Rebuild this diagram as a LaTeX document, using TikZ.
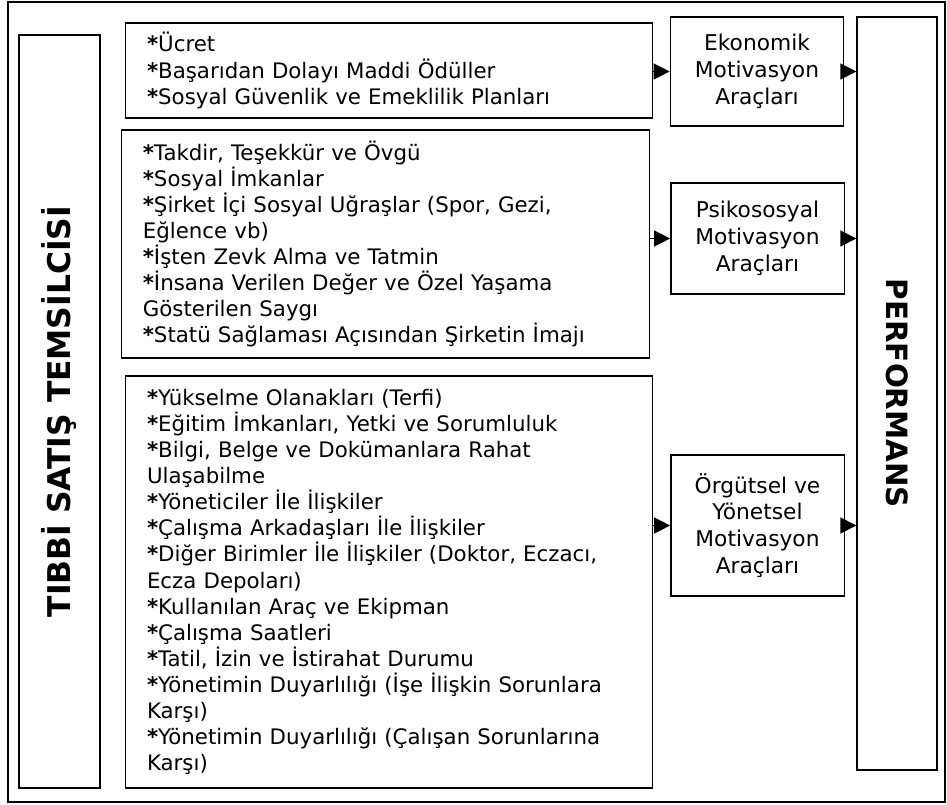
\documentclass[tikz,border=0pt]{standalone}
\usepackage{fontspec}
\setmainfont{DejaVu Sans}
\usetikzlibrary{arrows.meta,positioning}
\tikzset{
>={Triangle[length=12pt,width=12pt]},
  liste/.style={
    rectangle,
    draw=black, line width=1pt,
    inner xsep=16pt,
    align=left,
    font=\fontsize{16}{19.6}\selectfont},
  arac/.style={
    rectangle,
    draw=black, line width=1pt,
    minimum width=130pt,
    align=center,
    font=\fontsize{16.3}{20}\selectfont},
  ok/.style={draw, line width=1pt, ->},
}
\newcommand{\madde}{\textbf{*}}

\begin{document}
\begin{tikzpicture}[
    x=0.75pt, y=-0.75pt,
    baslik/.style={draw=black, line width=1pt, font=\bfseries},
    every node/.style={color=black}
    ]

	\useasboundingbox (0,0) rectangle (947,805);
	\draw[line width=1.5pt] (8,2) rectangle (945,802);

	\node[baslik, rotate=90, minimum width=564.75pt, minimum height=60.75pt,
	  font=\fontsize{23.5}{26}\bfseries]
	  (temsilci) at (59.5,411.5) {TIBBİ SATIŞ TEMSİLCİSİ};
	\node[baslik, rotate=-90, minimum width=564.75pt, minimum height=60pt,
	  font=\fontsize{22}{26}\bfseries]
	  (perf) at (897,393.5) {PERFORMANS};

	\node[liste, text width=363pt, minimum height=71.25pt] (ekolist) at (389,70.5)
	  {\madde Ücret\\
	   \madde Başarıdan Dolayı Maddi Ödüller\\
	   \madde Sosyal Güvenlik ve Emeklilik Planları};
	\node[liste, text width=364pt, minimum height=171pt] (psikolist) at (385.5,244)
	  {\madde Takdir, Teşekkür ve Övgü\\
	   \madde Sosyal İmkanlar\\
	   \madde Şirket İçi Sosyal Uğraşlar (Spor, Gezi,\\
	   Eğlence vb)\\
	   \madde İşten Zevk Alma ve Tatmin\\
	   \madde İnsana Verilen Değer ve Özel Yaşama\\
	   Gösterilen Saygı\\
	   \madde Statü Sağlaması Açısından Şirketin İmajı};
	\node[liste, text width=363pt, minimum height=309pt] (orgutlist) at (389,582)
	  {\madde Yükselme Olanakları (Terfi)\\
	   \madde Eğitim İmkanları, Yetki ve Sorumluluk\\
	   \madde Bilgi, Belge ve Dokümanlara Rahat\\
	   Ulaşabilme\\
	   \madde Yöneticiler İle İlişkiler\\
	   \madde Çalışma Arkadaşları İle İlişkiler\\
	   \madde Diğer Birimler İle İlişkiler (Doktor, Eczacı,\\
	   Ecza Depoları)\\
	   \madde Kullanılan Araç ve Ekipman\\
	   \madde Çalışma Saatleri\\
	   \madde Tatil, İzin ve İstirahat Durumu\\
	   \madde Yönetimin Duyarlılığı (İşe İlişkin Sorunlara\\
	   Karşı)\\
	   \madde Yönetimin Duyarlılığı (Çalışan Sorunlarına\\
	   Karşı)};

	\node[arac, minimum height=81.75pt] (eko) at (757,71.5)
	  {Ekonomik\\Motivasyon\\Araçları};
	\node[arac, minimum height=83.25pt] (psiko) at (757.5,238.5)
	  {Psikososyal\\Motivasyon\\Araçları};
	\node[arac, minimum height=105.75pt] (orgut) at (757.5,525.5)
	  {Örgütsel ve\\Yönetsel\\Motivasyon\\Araçları};

	\draw[ok] (eko.west -| ekolist.east) -- (eko.west);
	\draw[ok] (psiko.west -| psikolist.east) -- (psiko.west);
	\draw[ok] (orgut.west -| orgutlist.east) -- (orgut.west);

	\draw[ok] (eko.east) -- (eko.east -| perf.south);
	\draw[ok] (psiko.east) -- (psiko.east -| perf.south);
	\draw[ok] (orgut.east) -- (orgut.east -| perf.south);

\end{tikzpicture}
\end{document}
